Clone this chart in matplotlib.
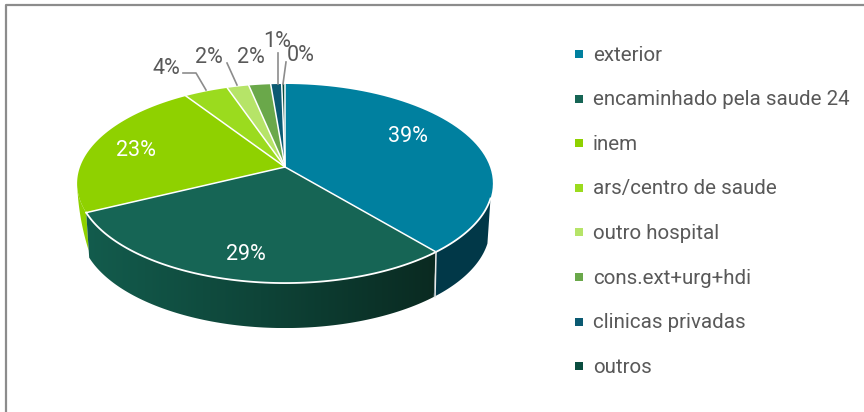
#!/usr/bin/env python3

import numpy as np
import matplotlib
matplotlib.use("Agg")
import matplotlib.pyplot as plt
from matplotlib.patches import Polygon
from matplotlib.colors import LinearSegmentedColormap

# data
categories = ["exterior", "encaminhado pela saude 24", "inem", "ars/centro de saude",
              "outro hospital", "cons.ext+urg+hdi", "clinicas privadas", "outros"]
values = [39.0, 29.0, 23.0, 4.0, 2.0, 2.0, 1.0, 0.3]
labels = ["39%", "29%", "23%", "4%", "2%", "2%", "1%", "0%"]
top_colors = ["#00809f", "#166555", "#8fd100", "#9bdb1e", "#b6e468", "#6aa84a", "#0b5a72", "#0a4d3f"]

# pie geometry in pixels, the tilt is a simple perspective
CX, CY = 285, 167
RX, RY = 205, 96.8
K = 0.166
DEPTH = 45
TEXT = "#595959"
FONT = ["Roboto", "DejaVu Sans"]


def rim(theta, depth=0.0):
    # theta in degrees, clockwise from the top
    t = np.radians(theta)
    u, v = np.sin(t), np.cos(t)
    d = 1 + K * v
    shrink = 1 - 0.015 * np.asarray(depth) / DEPTH
    x = CX + shrink * RX * u / d
    y = CY - RY * v / d + depth
    return np.column_stack([x, y])


fig = plt.figure(figsize=(8.64, 4.12), dpi=100)
ax = fig.add_axes([0, 0, 1, 1])
ax.axis("off")

# frame, only top and left show
ax.plot([5.5, 5.5, 864], [412, 4.5, 4.5], color="#8c8c8c", lw=1.6)

edges = np.concatenate([[0], np.cumsum(values)])
angles = edges / edges[-1] * 360
WALL_START = 108

# exterior wall
th = np.linspace(WALL_START, angles[1], 60)
ax.add_patch(Polygon(np.vstack([rim(th), rim(th[::-1], DEPTH)]), closed=True,
                     fc="#013848", ec="none", zorder=2))

# big front wall with a dark gradient
th = np.linspace(angles[1], angles[2], 100)
pts = np.vstack([rim(th), rim(th[::-1], DEPTH)])
poly = Polygon(pts, closed=True, fc="none", ec="none")
ax.add_patch(poly)
cmap = LinearSegmentedColormap.from_list("wall", ["#0a2a21", "#0e4438", "#135c4d"])
im = ax.imshow(np.linspace(0, 1, 256).reshape(1, -1), cmap=cmap, aspect="auto",
               extent=[pts[:, 0].max(), pts[:, 0].min(), pts[:, 1].max(), pts[:, 1].min()], zorder=2)
im.set_clip_path(poly)

# thin green sliver, wall of the inem slice fades out to the left
th = np.linspace(angles[2], angles[2] + 17, 30)
dep = np.linspace(38, 0, 30)
back = rim(th, dep)
ax.add_patch(Polygon(np.vstack([rim(th), back[::-1]]), closed=True, fc="#8fd100", ec="none", zorder=1))

# top face
for i in range(len(values)):
    th = np.linspace(angles[i], angles[i + 1], 60)
    pts = np.vstack([[CX, CY], rim(th)])
    ax.add_patch(Polygon(pts, closed=True, fc=top_colors[i], ec="none", zorder=3))

# white separators
for a in angles[:-1]:
    p = rim(a)[0]
    ax.plot([CX, p[0]], [CY, p[1]], color="white", lw=1.1, zorder=4)
fr = rim(np.linspace(WALL_START, angles[2], 120))
ax.plot(fr[:, 0], fr[:, 1], color="white", lw=1.3, zorder=4)

# white line where the two walls meet
p = rim(angles[1])[0]
ax.plot([p[0], p[0] - 1], [p[1], p[1] + DEPTH], color="#e8e8e8", lw=1.1, zorder=4)

# labels and leaders
text_pos = [(408, 137), (246, 254), (136, 151), (166, 68), (209, 57), (251, 57), (277, 41), (301, 55)]
text_col = ["white", "white", "white", TEXT, TEXT, TEXT, TEXT, TEXT]
for lab, pos, col in zip(labels, text_pos, text_col):
    ax.text(pos[0], pos[1], lab, color=col, fontsize=15.5, ha="center", va="center",
            family=FONT, zorder=5)

leaders = [([183, 196, 206], [73, 73, 90]), ([227, 237], [63, 85]),
           ([278, 278], [53, 84]), ([286, 283], [62, 84])]
for lx, ly in leaders:
    ax.plot(lx, ly, color="#8c8c8c", lw=1.2, zorder=5)

# legend
for i, name in enumerate(categories):
    y = 54 + i * 44.6
    ax.scatter([579], [y], marker="s", s=28, color=top_colors[i], linewidths=0, zorder=5)
    ax.text(593, y + 1, name, color=TEXT, fontsize=14.8, ha="left", va="center", family=FONT, zorder=5)

ax.set_xlim(0, 864)
ax.set_ylim(412, 0)

fig.savefig("out.png", dpi=100)
